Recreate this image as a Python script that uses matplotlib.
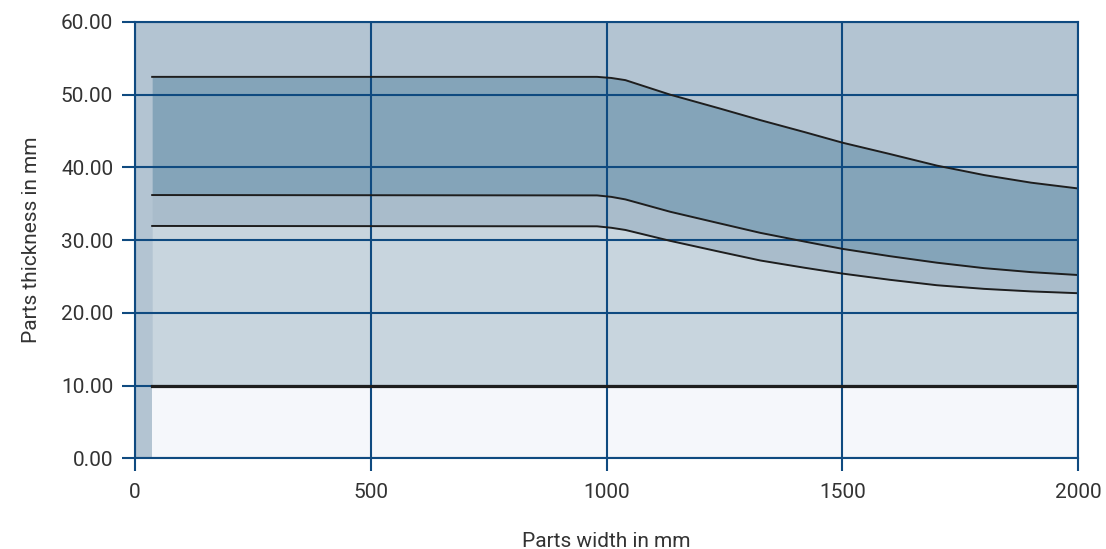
import matplotlib.pyplot as plt

plt.rcParams["font.family"] = ["Roboto", "DejaVu Sans"]

# (mm)
width = [37, 980, 1010, 1040, 1135, 1240, 1326, 1420, 1500, 1600, 1700, 1800, 1900, 2000]
upper = [52.45, 52.45, 52.3, 52.0, 50.0, 48.1, 46.5, 44.85, 43.4, 41.85, 40.25, 38.95, 37.9, 37.1]
middle = [36.2, 36.15, 35.95, 35.6, 33.9, 32.3, 31.0, 29.8, 28.8, 27.8, 26.9, 26.15, 25.6, 25.2]
lower = [31.95, 31.9, 31.7, 31.4, 29.9, 28.4, 27.2, 26.2, 25.4, 24.55, 23.8, 23.3, 22.95, 22.7]
base = 10.0

x_ticks = [0, 500, 1000, 1500, 2000]
y_ticks = [0, 10, 20, 30, 40, 50, 60]

grid_color = "#0f4a80"

fig = plt.figure(figsize=(11.06, 5.49), dpi=100)
ax = fig.add_axes([0.1218, 0.1652, 0.8532, 0.7948])
ax.set_facecolor("#b3c4d2")

ax.fill_between(width, 0, base, color="#f5f7fb", lw=0, zorder=0.5)
ax.fill_between(width, base, lower, color="#c8d5de", lw=0, zorder=0.5)
ax.fill_between(width, lower, middle, color="#a9bccb", lw=0, zorder=0.5)
ax.fill_between(width, middle, upper, color="#84a4b9", lw=0, zorder=0.5)

ax.plot([width[0], width[-1]], [base, base], color="#1e1e1e", lw=2.3, zorder=2)
ax.plot(width, lower, color="#1e1e1e", lw=1.4, zorder=2)
ax.plot(width, middle, color="#1e1e1e", lw=1.4, zorder=2)
ax.plot(width, upper, color="#1e1e1e", lw=1.4, zorder=2)

ax.set_xlim(0, 2000)
ax.set_ylim(0, 60)
ax.set_xticks(x_ticks)
ax.set_yticks(y_ticks)
ax.set_yticklabels([f"{v:.2f}" for v in y_ticks])

ax.set_axisbelow("line")
ax.grid(True, color=grid_color, lw=1.5)

for s in ax.spines.values():
    s.set_color(grid_color)
    s.set_linewidth(1.5)

ax.tick_params(axis="both", colors=grid_color, length=9.5, width=1.5,
               labelsize=15, labelcolor="#333333")
ax.tick_params(axis="y", pad=6)
ax.tick_params(axis="x", pad=8)

ax.set_xlabel("Parts width in mm", fontsize=15, color="#333333", labelpad=22)
ax.set_ylabel("Parts thickness in mm", fontsize=15, color="#333333", labelpad=14)

fig.savefig("out.png", dpi=100)
